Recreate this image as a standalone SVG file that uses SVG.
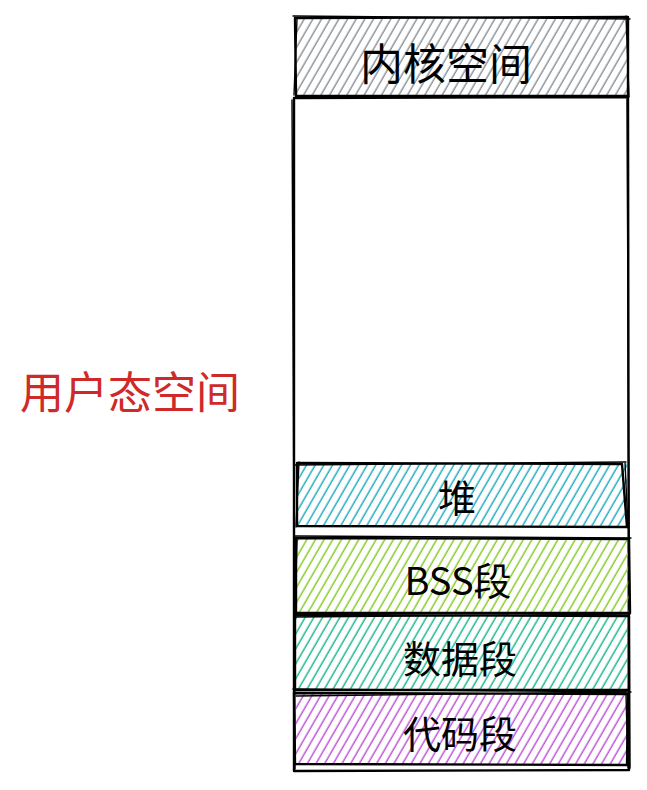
<svg xmlns="http://www.w3.org/2000/svg" width="647" height="790" viewBox="0 0 647 790">
<defs>
<pattern id="hGray" width="7.5" height="7.5" patternUnits="userSpaceOnUse" patternTransform="rotate(30)"><line x1="3" y1="0" x2="3" y2="7.5" stroke="#868e96" stroke-width="1.4"/></pattern>
<pattern id="hBlue" width="7.5" height="7.5" patternUnits="userSpaceOnUse" patternTransform="rotate(30)"><line x1="3" y1="0" x2="3" y2="7.5" stroke="#15aabf" stroke-width="1.4"/></pattern>
<pattern id="hGreen" width="7.5" height="7.5" patternUnits="userSpaceOnUse" patternTransform="rotate(30)"><line x1="3" y1="0" x2="3" y2="7.5" stroke="#82c91e" stroke-width="1.4"/></pattern>
<pattern id="hTeal" width="7.5" height="7.5" patternUnits="userSpaceOnUse" patternTransform="rotate(30)"><line x1="3" y1="0" x2="3" y2="7.5" stroke="#12b886" stroke-width="1.4"/></pattern>
<pattern id="hPurple" width="7.5" height="7.5" patternUnits="userSpaceOnUse" patternTransform="rotate(30)"><line x1="3" y1="0" x2="3" y2="7.5" stroke="#be4bdb" stroke-width="1.4"/></pattern>
</defs>
<style>
.b{fill:none;stroke:#000;stroke-width:2.4;stroke-linecap:round;stroke-linejoin:round}
.b2{fill:none;stroke:#000;stroke-width:1.4;stroke-linecap:round;stroke-linejoin:round}
.t{font-family:"Noto Sans CJK SC","Noto Sans",sans-serif;font-weight:400;fill:#000;text-anchor:middle;dominant-baseline:central}
</style>
<rect width="647" height="790" fill="#fff"/>
<g id="user-space">
<path class="b" d="M294 98 L628 97 L629 770 L294 771 Z"/>
<path class="b2" d="M292 100 L295 769 M627 99 L630 768"/>
</g>
<g id="kernel">
<rect x="295" y="18" width="333" height="78" fill="url(#hGray)"/>
<path class="b" d="M295 18 L628 17 L628 96 L296 96 Z"/>
<path class="b2" d="M293 16 L630 19 M297 19 L294 95 M626 16 L629 97"/>
<text class="t" x="446" y="61" font-size="43">内核空间</text>
</g>
<g id="heap">
<rect x="297" y="463" width="330" height="64" fill="url(#hBlue)"/>
<path class="b" d="M297 463 L622 464 L627 527 L297 526 Z"/>
<path class="b2" d="M295 465 L626 462 M299 462 L296 527 M625 462 L628 528"/>
<text class="t" x="457" y="495" font-size="38">堆</text>
</g>
<g id="bss">
<rect x="296" y="538" width="334" height="76" fill="url(#hGreen)"/>
<path class="b" d="M296 538 L629 539 L630 613 L296 613 Z"/>
<path class="b2" d="M295 536 L631 538 M297 540 L295 614"/>
<text class="t" x="458" y="578" font-size="38">BSS段</text>
</g>
<g id="data">
<rect x="295" y="615" width="334" height="75" fill="url(#hTeal)"/>
<path class="b" d="M295 615 L629 616 L629 690 L295 690 Z"/>
<path class="b2" d="M294 617 L630 614 M293 689 L631 692"/>
<text class="t" x="460" y="656" font-size="38">数据段</text>
</g>
<g id="code">
<rect x="294" y="693" width="334" height="72" fill="url(#hPurple)"/>
<path class="b" d="M294 693 L628 694 L627 765 L295 764 Z"/>
<path class="b2" d="M296 696 L626 692 M626 695 L628 768"/>
<text class="t" x="460" y="731" font-size="38">代码段</text>
</g>
<g id="label-user">
<text x="130" y="390" font-size="44" fill="#cf2a2a" font-family="Noto Sans CJK SC,Noto Sans,sans-serif" text-anchor="middle" dominant-baseline="central">用户态空间</text>
</g>
<g id="connectors"/>
</svg>
